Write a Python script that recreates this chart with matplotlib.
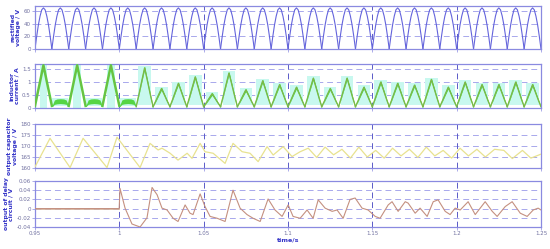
import matplotlib
matplotlib.use("Agg")
import matplotlib.pyplot as plt
import numpy as np

# ---- data ----
period = 0.01  # one rectified half cycle (s)

# rectified voltage: one hump (V) at 11 evenly spaced points, repeated every half cycle
rect_hump = [0, 20, 38, 52, 62, 65, 62, 52, 38, 20, 0]
rect_starts = [0.95 + k * period for k in range(30)]

# inductor current before the delay circuit switches on (t < 1.0)
spike_centres = [0.955, 0.975, 0.995]
spike_peak = 1.65
spike_dt = [-0.005, 0.0, 0.005]
spike_rel = [0.05, 1.0, 0.05]
blob_centres = [0.965, 0.985, 1.005]
blob_dt = [-0.0048, -0.0035, -0.002, 0.0, 0.002, 0.0035, 0.0048]
blob_hi = [0.10, 0.31, 0.35, 0.36, 0.35, 0.31, 0.10]
blob_lo = [0.05, 0.14, 0.16, 0.17, 0.16, 0.14, 0.05]

# inductor current after 1.0 s: peak of each hump (A)
hump_centres = [1.015 + k * period for k in range(24)]
hump_peaks = [1.55, 0.75, 0.95, 1.2, 0.55, 1.35, 0.7, 1.05, 0.9, 0.8, 1.15, 0.75,
              1.15, 0.8, 1.0, 0.95, 0.88, 1.1, 0.8, 1.0, 0.9, 0.9, 1.0, 0.9]
hump_dt = [-0.005, -0.0033, -0.0017, 0.0, 0.0017, 0.0033, 0.005]
hump_rel = [0.0, 0.33, 0.66, 1.0, 0.66, 0.33, 0.0]

# output capacitor voltage (V)
cap_t = [0.95, 0.9589, 0.9708, 0.9785, 0.9927, 0.9986, 1.0123, 1.0182, 1.0230,
         1.0253, 1.0301, 1.0348, 1.0402, 1.0431, 1.0479, 1.0508, 1.0556, 1.0627,
         1.0674, 1.0728, 1.0775, 1.0823, 1.0876, 1.0912, 1.0971, 1.1024, 1.1072,
         1.112, 1.117, 1.122, 1.127, 1.132, 1.137, 1.142, 1.147, 1.152, 1.157,
         1.162, 1.167, 1.172, 1.177, 1.182, 1.187, 1.192, 1.197, 1.202, 1.207,
         1.212, 1.217, 1.2225, 1.228, 1.233, 1.239, 1.244, 1.25]
cap_v = [160.5, 173.5, 160.2, 173.5, 160.2, 174.0, 160.2, 171.2, 168.2,
         169.0, 166.7, 163.6, 166.7, 164.4, 171.2, 167.4, 166.7, 162.1,
         171.2, 167.4, 166.7, 162.9, 169.7, 165.9, 169.7, 165.2, 167.4,
         169.0, 164.8, 169.5, 166.0, 168.5, 164.5, 169.5, 165.0, 168.0, 164.5,
         169.0, 165.5, 168.5, 164.8, 169.5, 165.5, 168.0, 164.5, 169.0, 165.5,
         168.5, 165.0, 168.5, 168.0, 164.3, 168.0, 164.5, 166.3]

# output of delay circuit (V)
delay_t = [0.95, 0.9999, 1.0004, 1.0034, 1.0075, 1.0123, 1.0164, 1.0194, 1.0224,
           1.0253, 1.0283, 1.0319, 1.0348, 1.0390, 1.0419, 1.0437, 1.0479,
           1.0508, 1.0538, 1.0580, 1.0627, 1.0674, 1.0716, 1.0757, 1.0793,
           1.0835, 1.0882, 1.0923, 1.0965, 1.1001, 1.1030, 1.1072, 1.1113,
           1.1149, 1.1179, 1.1220, 1.1262, 1.1291, 1.1327, 1.1368, 1.1398,
           1.1439, 1.1475, 1.1517, 1.1546, 1.1594, 1.1617, 1.1653, 1.1695,
           1.1712, 1.1754, 1.1783, 1.1825, 1.1861, 1.1890, 1.1932, 1.1961,
           1.1991, 1.2021, 1.2068, 1.2110, 1.2169, 1.2211, 1.2240, 1.2288,
           1.2329, 1.2377, 1.2418, 1.2454, 1.2483, 1.25]
delay_v = [0.0, 0.0, 0.044, 0.001, -0.0335, -0.040, -0.020, 0.046, 0.030,
           0.001, -0.003, -0.021, -0.028, 0.008, -0.010, -0.013, 0.032,
           0.0045, -0.017, -0.021, -0.028, 0.040, 0.001, -0.013, -0.021,
           -0.028, 0.021, -0.003, -0.017, 0.008, -0.017, -0.021, -0.003,
           -0.021, 0.019, 0.001, -0.006, -0.003, -0.021, 0.020, 0.023,
           0.001, -0.003, -0.017, -0.021, 0.008, 0.015, -0.006, 0.015,
           0.012, -0.010, 0.001, -0.017, 0.015, 0.019, -0.006, -0.013,
           0.001, -0.003, 0.015, -0.013, 0.015, -0.006, -0.017, 0.0045,
           0.015, -0.010, -0.017, -0.003, 0.001, -0.003]

xticks = [0.95, 1.0, 1.05, 1.1, 1.15, 1.2, 1.25]
xtick_labels = ["0.95", "1", "1.05", "1.1", "1.15", "1.2", "1.25"]

# ---- style ----
FRAME = "#8a8ae0"
VGRID = "#5a5ac8"
HGRID = "#a8a8ec"
LABEL = "#3535c8"
TICK = "#7070a0"

fig = plt.figure(figsize=(5.5, 2.49), dpi=100)
left, width = 35 / 550, 506 / 550
rows = [(6, 49), (64, 108), (124, 168), (181, 227)]
axes = []
for top, bot in rows:
    ax = fig.add_axes([left, 1 - bot / 249, width, (bot - top) / 249])
    axes.append(ax)


def style_axis(ax, ylim, yticks, ylabels, ylabel):
    ax.set_xlim(0.95, 1.25)
    ax.set_ylim(*ylim)
    ax.set_yticks(yticks)
    ax.set_yticklabels(ylabels)
    ax.set_xticks(xticks)
    for y in yticks:
        if ylim[0] < y < ylim[1]:
            ax.axhline(y, color=HGRID, lw=0.7, ls=(0, (6, 4)), zorder=0)
    for x in xticks[1:-1]:
        ax.axvline(x, color=VGRID, lw=0.7, ls=(0, (6, 4)), zorder=0)
    for s in ax.spines.values():
        s.set_color(FRAME)
        s.set_linewidth(0.9)
    ax.tick_params(axis="both", length=2, width=0.5, color=FRAME,
                   labelsize=4.0, labelcolor=TICK, pad=1)
    ax.set_ylabel(ylabel, fontsize=4.4, color=LABEL, fontweight="bold",
                  linespacing=1.05, labelpad=2)


# panel 1: rectified voltage
ax = axes[0]
seg = np.linspace(0, period, len(rect_hump))
for s in rect_starts:
    ax.plot(s + seg, rect_hump, color="#6464dc", lw=0.8)
style_axis(ax, (0, 68), [0, 20, 40, 60], ["0", "20", "40", "60"],
           "rectified\nvoltage / V")

# panel 2: inductor current
ax = axes[1]
CYAN = "#c8f8ef"
ax.bar(spike_centres, [1.7] * len(spike_centres), width=0.0045, bottom=0,
       color=CYAN, zorder=1)
ax.bar(blob_centres, [0.32] * len(blob_centres), width=0.0095, bottom=0.07,
       color=CYAN, zorder=1)
ax.bar(hump_centres, [p - 0.05 for p in hump_peaks], width=0.0075, bottom=0.12,
       color=CYAN, zorder=1)
for c in spike_centres:
    t = [c + d for d in spike_dt]
    v = [r * spike_peak for r in spike_rel]
    ax.plot(t, v, color="#55d545", lw=1.8, zorder=3)
    ax.plot(t, v, color="#88a840", lw=0.5, zorder=4)
for c in blob_centres:
    t = [c + d for d in blob_dt]
    ax.fill_between(t, blob_lo, blob_hi, color="#55d545", lw=0, zorder=3)
for c, p in zip(hump_centres, hump_peaks):
    t = [c + d for d in hump_dt]
    v = [0.05 + r * (p - 0.05) for r in hump_rel]
    lo = [x - 0.06 * r for x, r in zip(v, hump_rel)]
    hi = [x + 0.06 * r for x, r in zip(v, hump_rel)]
    ax.fill_between(t, lo, hi, color="#55d545", lw=0, zorder=3)
    ax.plot(t, v, color="#58d048", lw=1.0, zorder=3)
    ax.plot(t, v, color="#a0a048", lw=0.4, zorder=4)
style_axis(ax, (0, 1.7), [0, 0.5, 1, 1.5], ["0", "0.5", "1", "1.5"],
           "inductor\ncurrent / A")

# panel 3: output capacitor voltage
ax = axes[2]
ax.plot(cap_t, cap_v, color="#e8e290", lw=0.9, zorder=3)
style_axis(ax, (160, 180), [160, 165, 170, 175, 180],
           ["160", "165", "170", "175", "180"], "output capacitor\nvoltage / V")

# panel 4: output of delay circuit
ax = axes[3]
ax.plot(delay_t, delay_v, color="#c49080", lw=0.8, zorder=3)
ax.plot([0.95, 1.0], [0, 0], color="#d8b8a0", lw=1.2, zorder=2)
style_axis(ax, (-0.04, 0.06), [-0.04, -0.02, 0, 0.02, 0.04, 0.06],
           ["-0.04", "-0.02", "0", "0.02", "0.04", "0.06"],
           "output of delay\ncircuit / V")

for ax in axes[:-1]:
    ax.set_xticklabels([])
axes[-1].set_xticklabels(xtick_labels)
axes[-1].set_xlabel("time/s", fontsize=4.6, color=LABEL, fontweight="bold",
                    labelpad=1)

fig.align_ylabels(axes)
fig.savefig("out.png", dpi=100)
